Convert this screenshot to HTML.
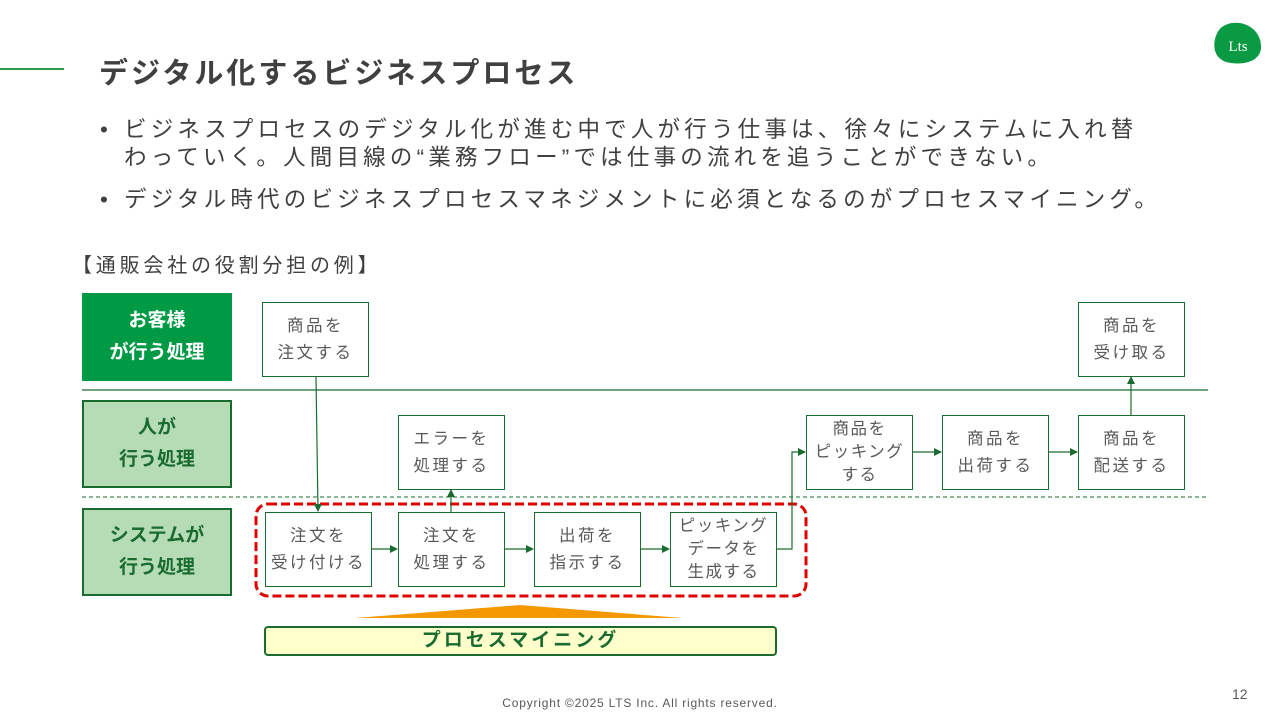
<!DOCTYPE html>
<html><head><meta charset="utf-8"><style>
body{margin:0;width:1280px;height:720px;background:#fff;position:relative;overflow:hidden;font-family:"Liberation Sans","Noto Sans CJK JP",sans-serif;color:#404040}
.a{position:absolute}
.bx{position:absolute;box-sizing:border-box;border:1.3px solid #1a6b30;background:#fff;display:flex;align-items:center;justify-content:center;text-align:center;font-size:16.5px;letter-spacing:2.5px;line-height:27px;color:#595959;white-space:nowrap}
.ln{position:absolute;box-sizing:border-box;display:flex;align-items:center;justify-content:center;text-align:center;font-size:19px;font-weight:bold;line-height:32px}
.bl{font-size:22.5px;line-height:28px;letter-spacing:4.2px;white-space:nowrap}
</style></head><body>
<div class="a" style="left:0;top:68px;width:64px;height:2px;background:#2e9a4a"></div>
<div class="a" style="left:99px;top:50px;font-size:29px;font-weight:bold;color:#404040;letter-spacing:3px">デジタル化するビジネスプロセス</div>
<svg class="a" style="left:1212px;top:20px" width="52" height="48"><path d="M16 4 C32 -1 50 10 49 28 C48 42 30 46 14 42 C3 38 1 28 3 19 C5 11 9 6 16 4Z" fill="#0a9a44"/><text x="26" y="31" font-family="Liberation Serif,serif" font-size="15" fill="#fff" text-anchor="middle">Lts</text></svg>
<div class="a bl" style="left:100px;top:116px;letter-spacing:0">•</div>
<div class="a bl" style="left:124px;top:116px">ビジネスプロセスのデジタル化が進む中で人が行う仕事は、徐々にシステムに入れ替<br>わっていく。人間目線の“業務フロー”では仕事の流れを追うことができない。</div>
<div class="a bl" style="left:100px;top:186px;letter-spacing:0">•</div>
<div class="a bl" style="left:124px;top:186px">デジタル時代のビジネスプロセスマネジメントに必須となるのがプロセスマイニング。</div>
<div class="a" style="left:72px;top:252px;font-size:20px;line-height:28px;letter-spacing:3.8px">【通販会社の役割分担の例】</div>

<div class="ln" style="left:82px;top:293px;width:150px;height:88px;background:#009a44;color:#fff">お客様<br>が行う処理</div>
<div class="ln" style="left:82px;top:400px;width:150px;height:88px;background:#b5dcb5;border:2.5px solid #1a6b30;color:#1a6b30">人が<br>行う処理</div>
<div class="ln" style="left:82px;top:508px;width:150px;height:88px;background:#b5dcb5;border:2.5px solid #1a6b30;color:#1a6b30">システムが<br>行う処理</div>

<svg class="a" style="left:0;top:0" width="1280" height="720">
<defs><marker id="ar" markerWidth="8" markerHeight="8" refX="7" refY="4" orient="auto" markerUnits="userSpaceOnUse"><path d="M0 0L8 4L0 8Z" fill="#1a6b30"/></marker></defs>
<line x1="82" y1="390" x2="1208" y2="390" stroke="#1a6b30" stroke-width="1.3"/>
<line x1="82" y1="497" x2="1208" y2="497" stroke="#1a6b30" stroke-width="1" stroke-dasharray="4,3"/>
<rect x="256" y="504" width="550" height="92" rx="12" fill="none" stroke="#e00000" stroke-width="3" stroke-dasharray="9,4"/>
<g stroke="#1a6b30" stroke-width="1.2" fill="none" marker-end="url(#ar)">
<line x1="316" y1="377" x2="318" y2="511"/>
<line x1="371" y1="549" x2="397" y2="549"/>
<line x1="504" y1="549" x2="533" y2="549"/>
<line x1="640" y1="549" x2="669" y2="549"/>
<line x1="451" y1="512" x2="451" y2="490"/>
<polyline points="776,549 792,549 792,452 805,452"/>
<line x1="912" y1="452" x2="941" y2="452"/>
<line x1="1048" y1="452" x2="1077" y2="452"/>
<line x1="1131" y1="415" x2="1131" y2="377"/>
</g>
<polygon points="355,618 520,605 682,618" fill="#f39800"/>
</svg>

<div class="bx" style="left:262px;top:302px;width:107px;height:75px">商品を<br>注文する</div>
<div class="bx" style="left:398px;top:415px;width:107px;height:75px">エラーを<br>処理する</div>
<div class="bx" style="left:265px;top:512px;width:107px;height:75px">注文を<br>受け付ける</div>
<div class="bx" style="left:398px;top:512px;width:107px;height:75px">注文を<br>処理する</div>
<div class="bx" style="left:534px;top:512px;width:107px;height:75px">出荷を<br>指示する</div>
<div class="bx" style="left:670px;top:512px;width:107px;height:75px;line-height:23px;letter-spacing:1.5px">ピッキング<br>データを<br>生成する</div>
<div class="bx" style="left:806px;top:415px;width:107px;height:75px;line-height:23px;letter-spacing:1.5px">商品を<br>ピッキング<br>する</div>
<div class="bx" style="left:942px;top:415px;width:107px;height:75px">商品を<br>出荷する</div>
<div class="bx" style="left:1078px;top:415px;width:107px;height:75px">商品を<br>配送する</div>
<div class="bx" style="left:1078px;top:302px;width:107px;height:75px">商品を<br>受け取る</div>

<div class="a" style="left:264px;top:626px;width:513px;height:30px;box-sizing:border-box;border:2px solid #1a6b30;border-radius:4px;background:#ffffcc;text-align:center;font-size:19px;font-weight:bold;line-height:25px;color:#1a6b30;letter-spacing:3px">プロセスマイニング</div>
<div class="a" style="left:0;width:1280px;top:696px;text-align:center;font-size:12px;color:#595959;letter-spacing:0.8px">Copyright ©2025 LTS Inc. All rights reserved.</div>
<div class="a" style="left:1232px;top:686px;font-size:14px;color:#595959">12</div>
</body></html>
